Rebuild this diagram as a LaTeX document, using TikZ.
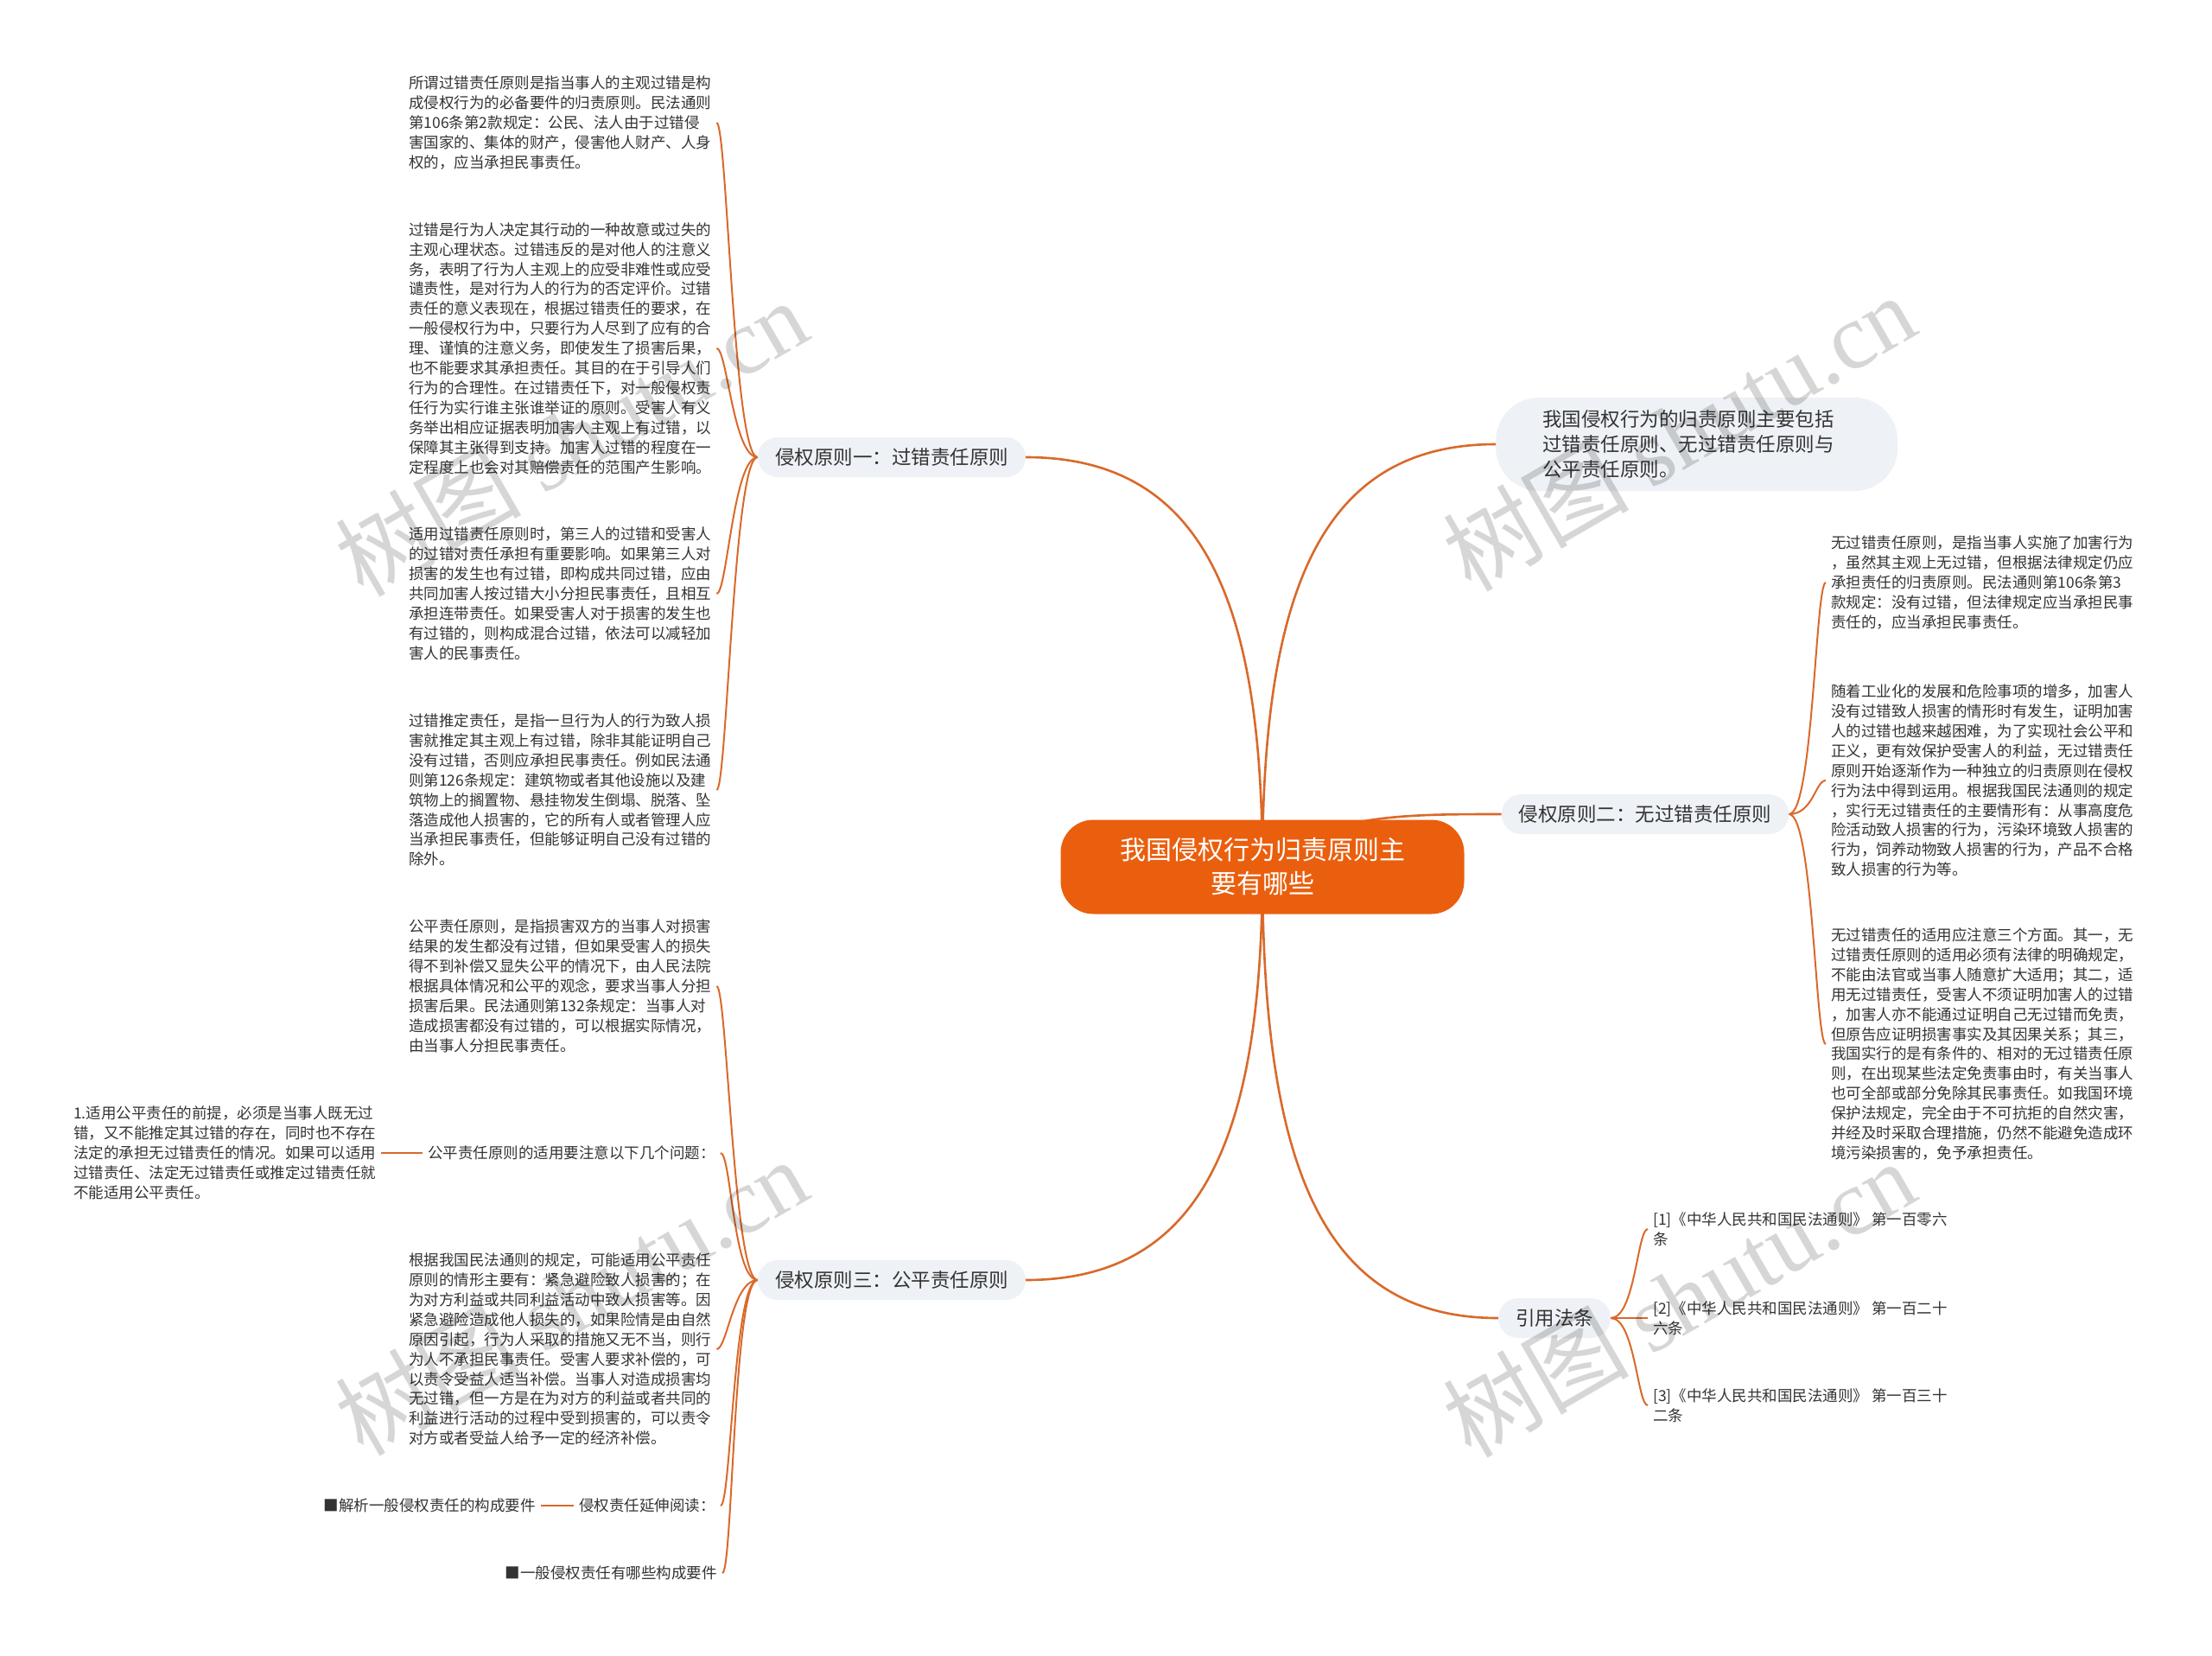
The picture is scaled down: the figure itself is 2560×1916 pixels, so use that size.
\documentclass[tikz,border=0pt]{standalone}
\usepackage{fontspec}
\setmainfont{Noto Sans CJK SC}
\newfontfamily\wmserif{Liberation Serif}
\usetikzlibrary{backgrounds}
\definecolor{lineorange}{HTML}{D9692A}
\definecolor{rootorange}{HTML}{EA5F0E}
\definecolor{pillgray}{HTML}{EEF1F5}
\definecolor{txt}{HTML}{333333}
\begin{document}
\begin{tikzpicture}[x=1pt,y=-1pt,
  leaf/.style={inner xsep=6pt, inner ysep=2pt, align=left, text=txt, font=\fontsize{17.5}{22.9}\selectfont},
  pill/.style={fill=pillgray, rounded corners=23pt, minimum height=46pt, inner xsep=20pt, text=txt, font=\fontsize{22.5}{29.4}\selectfont},
  mainedge/.style={draw=lineorange, line width=2.6pt},
  subedge/.style={draw=lineorange, line width=2pt},
  wm/.style={text=black, opacity=0.16, rotate=30, font=\fontsize{108}{108}\selectfont}]
\useasboundingbox (0,0) rectangle (2560,1916);

% root and branches
\node[fill=rootorange, rounded corners=38pt, minimum width=467pt, minimum height=109pt, text=white, align=center, font=\fontsize{30}{39}\selectfont] (root) at (1461,1003) {我国侵权行为归责原则主\\要有哪些};

\node[pill] (b1) at (1032,529) {侵权原则一：过错责任原则};
\node[pill, rounded corners=50pt, anchor=west, inner xsep=54pt, text width=357pt, minimum height=108pt, align=left] (bt) at (1731,514) {我国侵权行为的归责原则主要包括\\过错责任原则、无过错责任原则与\\公平责任原则。};
\node[pill] (b2) at (1904,942) {侵权原则二：无过错责任原则};
\node[pill] (b3) at (1032,1481) {侵权原则三：公平责任原则};
\node[pill] (b4) at (1799,1525) {引用法条};

% branch 1 leaves
\node[leaf, anchor=west] (l1) at (467,142) {所谓过错责任原则是指当事人的主观过错是构\\成侵权行为的必备要件的归责原则。民法通则\\第106条第2款规定：公民、法人由于过错侵\\害国家的、集体的财产，侵害他人财产、人身\\权的，应当承担民事责任。};
\node[leaf, anchor=west] (l2) at (467,403) {过错是行为人决定其行动的一种故意或过失的\\主观心理状态。过错违反的是对他人的注意义\\务，表明了行为人主观上的应受非难性或应受\\谴责性，是对行为人的行为的否定评价。过错\\责任的意义表现在，根据过错责任的要求，在\\一般侵权行为中，只要行为人尽到了应有的合\\理、谨慎的注意义务，即使发生了损害后果，\\也不能要求其承担责任。其目的在于引导人们\\行为的合理性。在过错责任下，对一般侵权责\\任行为实行谁主张谁举证的原则。受害人有义\\务举出相应证据表明加害人主观上有过错，以\\保障其主张得到支持。加害人过错的程度在一\\定程度上也会对其赔偿责任的范围产生影响。};
\node[leaf, anchor=west] (l3) at (467,687) {适用过错责任原则时，第三人的过错和受害人\\的过错对责任承担有重要影响。如果第三人对\\损害的发生也有过错，即构成共同过错，应由\\共同加害人按过错大小分担民事责任，且相互\\承担连带责任。如果受害人对于损害的发生也\\有过错的，则构成混合过错，依法可以减轻加\\害人的民事责任。};
\node[leaf, anchor=west] (l4) at (467,914) {过错推定责任，是指一旦行为人的行为致人损\\害就推定其主观上有过错，除非其能证明自己\\没有过错，否则应承担民事责任。例如民法通\\则第126条规定：建筑物或者其他设施以及建\\筑物上的搁置物、悬挂物发生倒塌、脱落、坠\\落造成他人损害的，它的所有人或者管理人应\\当承担民事责任，但能够证明自己没有过错的\\除外。};

% branch 3 leaves
\node[leaf, anchor=west] (l5) at (467,1141) {公平责任原则，是指损害双方的当事人对损害\\结果的发生都没有过错，但如果受害人的损失\\得不到补偿又显失公平的情况下，由人民法院\\根据具体情况和公平的观念，要求当事人分担\\损害后果。民法通则第132条规定：当事人对\\造成损害都没有过错的，可以根据实际情况，\\由当事人分担民事责任。};
\node[leaf, anchor=east] (l6) at (834,1334) {公平责任原则的适用要注意以下几个问题：};
\node[leaf, anchor=west] (l7) at (79,1334) {1.适用公平责任的前提，必须是当事人既无过\\错，又不能推定其过错的存在，同时也不存在\\法定的承担无过错责任的情况。如果可以适用\\过错责任、法定无过错责任或推定过错责任就\\不能适用公平责任。};
\node[leaf, anchor=west] (l8) at (467,1561) {根据我国民法通则的规定，可能适用公平责任\\原则的情形主要有：紧急避险致人损害的；在\\为对方利益或共同利益活动中致人损害等。因\\紧急避险造成他人损失的，如果险情是由自然\\原因引起，行为人采取的措施又无不当，则行\\为人不承担民事责任。受害人要求补偿的，可\\以责令受益人适当补偿。当事人对造成损害均\\无过错，但一方是在为对方的利益或者共同的\\利益进行活动的过程中受到损害的，可以责令\\对方或者受益人给予一定的经济补偿。};
\node[leaf, anchor=east] (l9) at (834,1742) {侵权责任延伸阅读：};
\node[leaf, anchor=east] (l10) at (626,1742) {■解析一般侵权责任的构成要件};
\node[leaf, anchor=east] (l11) at (836,1820) {■一般侵权责任有哪些构成要件};

% branch 2 leaves
\node[leaf, anchor=west] (r1) at (2113,674) {无过错责任原则，是指当事人实施了加害行为\\，虽然其主观上无过错，但根据法律规定仍应\\承担责任的归责原则。民法通则第106条第3\\款规定：没有过错，但法律规定应当承担民事\\责任的，应当承担民事责任。};
\node[leaf, anchor=west] (r2) at (2113,903) {随着工业化的发展和危险事项的增多，加害人\\没有过错致人损害的情形时有发生，证明加害\\人的过错也越来越困难，为了实现社会公平和\\正义，更有效保护受害人的利益，无过错责任\\原则开始逐渐作为一种独立的归责原则在侵权\\行为法中得到运用。根据我国民法通则的规定\\，实行无过错责任的主要情形有：从事高度危\\险活动致人损害的行为，污染环境致人损害的\\行为，饲养动物致人损害的行为，产品不合格\\致人损害的行为等。};
\node[leaf, anchor=west] (r3) at (2113,1208) {无过错责任的适用应注意三个方面。其一，无\\过错责任原则的适用必须有法律的明确规定，\\不能由法官或当事人随意扩大适用；其二，适\\用无过错责任，受害人不须证明加害人的过错\\，加害人亦不能通过证明自己无过错而免责，\\但原告应证明损害事实及其因果关系；其三，\\我国实行的是有条件的、相对的无过错责任原\\则，在出现某些法定免责事由时，有关当事人\\也可全部或部分免除其民事责任。如我国环境\\保护法规定，完全由于不可抗拒的自然灾害，\\并经及时采取合理措施，仍然不能避免造成环\\境污染损害的，免予承担责任。};

% citations
\node[leaf, anchor=west] (c1) at (1907,1422) {[1]《中华人民共和国民法通则》 第一百零六\\条};
\node[leaf, anchor=west] (c2) at (1907,1525) {[2]《中华人民共和国民法通则》 第一百二十\\六条};
\node[leaf, anchor=west] (c3) at (1907,1626) {[3]《中华人民共和国民法通则》 第一百三十\\二条};

\begin{scope}[on background layer]
\fill[white] (0,0) rectangle (2560,1916);
\path[mainedge] (root.center) .. controls (1461,700) and (1395,529) .. (b1.east);
\path[mainedge] (root.center) .. controls (1461,685) and (1528,514) .. (bt.west);
\path[mainedge] (root.center) .. controls (1530,942) and (1620,942) .. (b2.west);
\path[mainedge] (root.center) .. controls (1461,1310) and (1395,1481) .. (b3.east);
\path[mainedge] (root.center) .. controls (1461,1345) and (1528,1525) .. (b4.west);
\foreach \n in {l1,l2,l3,l4}
  \path[subedge] (b1.west) .. controls +(-28,0) and +(12,0) .. (\n.east);
\foreach \n in {l5,l6,l8,l9,l11}
  \path[subedge] (b3.west) .. controls +(-28,0) and +(12,0) .. (\n.east);
\foreach \n in {r1,r2,r3}
  \path[subedge] (b2.east) .. controls +(28,0) and +(-12,0) .. (\n.west);
\foreach \n in {c1,c2,c3}
  \path[subedge] (b4.east) .. controls +(28,0) and +(-12,0) .. (\n.west);
\path[subedge] (l6.west) -- (l7.east);
\path[subedge] (l9.west) -- (l10.east);
\end{scope}

% watermarks
\node[wm] (wm1) at (661,506) {树图 {\wmserif shutu.cn}};
\node[wm] (wm2) at (1943,500) {树图 {\wmserif shutu.cn}};
\node[wm] (wm3) at (661,1500) {树图 {\wmserif shutu.cn}};
\node[wm] (wm4) at (1943,1502) {树图 {\wmserif shutu.cn}};
\end{tikzpicture}
\end{document}
